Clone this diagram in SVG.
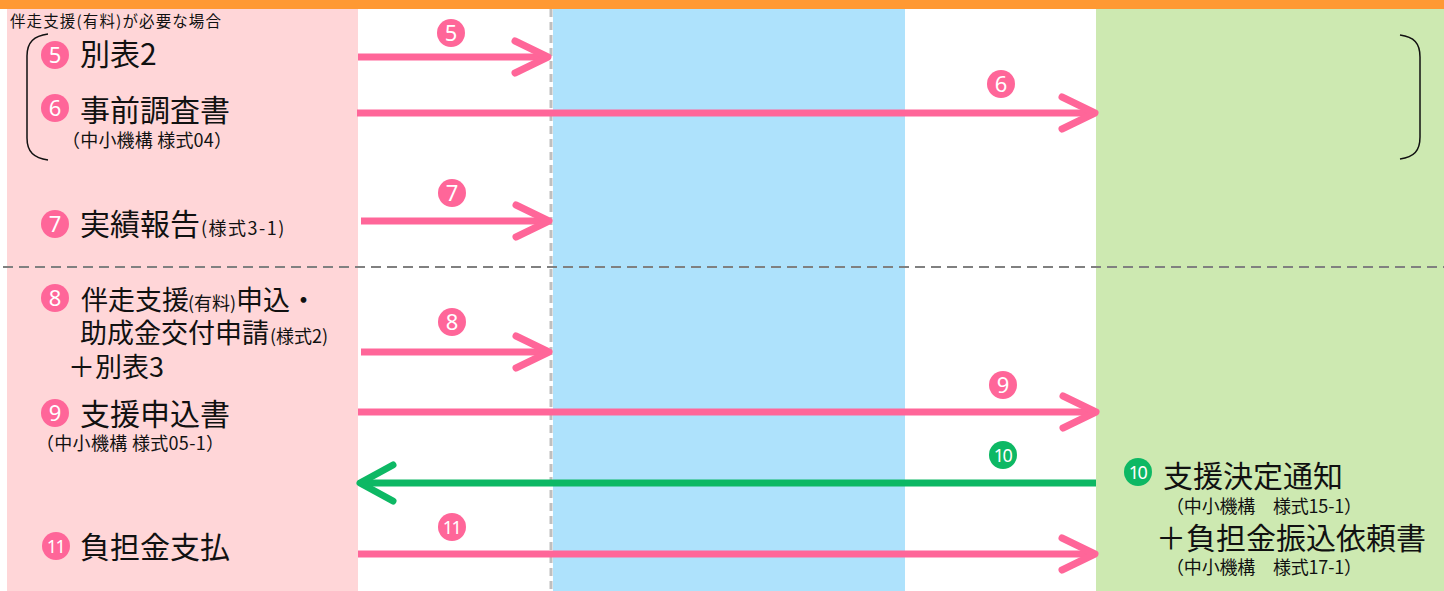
<svg xmlns="http://www.w3.org/2000/svg" width="1444" height="591" viewBox="0 0 1444 591">
<style>
  text { font-family: "Noto Sans CJK JP", "Noto Sans", sans-serif; fill: #111; }
  .big { font-size: 30px; }
  .mid { font-size: 27px; }
  .sm { font-size: 18px; }
  .xs { font-size: 18px; }
  .num { font-family: "Noto Sans", "DejaVu Sans", sans-serif; font-size: 22px; fill: #fff; text-anchor: middle; }
  .num2 { font-family: "Noto Sans", "DejaVu Sans", sans-serif; font-size: 18px; fill: #fff; text-anchor: middle; letter-spacing: -1.5px; }
  .pk { fill: #FF6699; }
  .gr { fill: #0DB864; }
  .ap { stroke: #FF6699; stroke-width: 7; fill: none; }
  .ag { stroke: #0DB864; stroke-width: 7; fill: none; }
  .br { stroke: #111; stroke-width: 1.5; fill: none; }
</style>
<defs>
  <marker id="hp" markerUnits="userSpaceOnUse" viewBox="-42 -24 50 48" refX="0" refY="0" markerWidth="50" markerHeight="48" orient="auto" overflow="visible">
    <path d="M-33,-16 L0,0 L-33,16" fill="none" stroke="#FF6699" stroke-width="7" stroke-linecap="round" stroke-linejoin="round"/>
  </marker>
  <marker id="hg" markerUnits="userSpaceOnUse" viewBox="-42 -24 50 48" refX="0" refY="0" markerWidth="50" markerHeight="48" orient="auto" overflow="visible">
    <path d="M-33,-18 L0,0 L-33,18" fill="none" stroke="#0DB864" stroke-width="7" stroke-linecap="round" stroke-linejoin="round"/>
  </marker>
</defs>

<g id="background">
  <rect x="0" y="0" width="1444" height="591" fill="#ffffff"/>
  <rect x="7" y="9" width="351" height="582" fill="#FFD6D8"/>
  <rect x="553" y="9" width="352" height="582" fill="#AEE2FC"/>
  <rect x="1096" y="9" width="348" height="582" fill="#CDE9B1"/>
  <rect x="0" y="0" width="1444" height="9" fill="#FF9933"/>
  <line x1="551" y1="9" x2="551" y2="591" stroke="#BFBFBF" stroke-width="3" stroke-dasharray="8 5"/>
  <line x1="3" y1="267" x2="1444" y2="267" stroke="#808080" stroke-width="2" stroke-dasharray="10 6"/>
</g>

<g id="header">
  <text x="10" y="27" style="font-size:15.5px" textLength="211" lengthAdjust="spacing">伴走支援(有料)が必要な場合</text>
  <path class="br" d="M48,34 C34,36 27,42 27,56 L27,138 C27,152 34,158 48,160"/>
  <path class="br" d="M1400,35 C1414,37 1420,43 1420,57 L1420,137 C1420,151 1414,157 1400,159"/>
</g>

<g id="node5">
  <circle class="pk" cx="55" cy="55" r="14"/><text class="num" x="55" y="63">5</text>
  <text class="big" x="80" y="65">別表2</text>
</g>
<g id="node6">
  <circle class="pk" cx="55" cy="108" r="14"/><text class="num" x="55" y="116">6</text>
  <text class="big" x="80" y="121">事前調査書</text>
  <text class="sm" x="62" y="147" textLength="170" lengthAdjust="spacing">（中小機構 様式04）</text>
</g>
<g id="node7">
  <circle class="pk" cx="55" cy="224" r="14"/><text class="num" x="55" y="232">7</text>
  <text class="big" x="80" y="235">実績報告</text>
  <text class="xs" x="201" y="235" style="letter-spacing:1.5px">(様式3-1)</text>
</g>
<g id="node8">
  <circle class="pk" cx="55" cy="298" r="14"/><text class="num" x="55" y="306">8</text>
  <text class="mid" x="81" y="310">伴走支援</text>
  <text class="xs" x="188" y="310">(有料)</text>
  <text class="mid" x="236" y="310">申込・</text>
  <text class="mid" x="80" y="343">助成金交付申請</text>
  <text class="xs" x="270" y="343">(様式2)</text>
  <text class="mid" x="68" y="377">＋別表3</text>
</g>
<g id="node9">
  <circle class="pk" cx="55" cy="413" r="14"/><text class="num" x="55" y="421">9</text>
  <text class="big" x="80" y="425">支援申込書</text>
  <text class="sm" x="36" y="450" textLength="188" lengthAdjust="spacing">（中小機構 様式05-1）</text>
</g>
<g id="node11">
  <circle class="pk" cx="56" cy="546" r="14"/><text class="num2" x="55.5" y="552.5">11</text>
  <text class="big" x="80" y="558">負担金支払</text>
</g>
<g id="node10">
  <circle class="gr" cx="1138" cy="472" r="14"/><text class="num2" x="1137.5" y="478.5">10</text>
  <text class="big" x="1163" y="487">支援決定通知</text>
  <text class="sm" x="1166" y="513" textLength="196" lengthAdjust="spacing">（中小機構　様式15-1）</text>
  <text class="big" x="1156" y="549">＋負担金振込依頼書</text>
  <text class="sm" x="1166" y="574" textLength="196" lengthAdjust="spacing">（中小機構　様式17-1）</text>
</g>

<g id="connectors">
  <line class="ap" x1="358" y1="57" x2="548" y2="57" marker-end="url(#hp)"/>
  <line class="ap" x1="357" y1="113" x2="1095" y2="113" marker-end="url(#hp)"/>
  <line class="ap" x1="361" y1="221" x2="549" y2="221" marker-end="url(#hp)"/>
  <line class="ap" x1="361" y1="352" x2="549" y2="352" marker-end="url(#hp)"/>
  <line class="ap" x1="358" y1="412" x2="1096" y2="412" marker-end="url(#hp)"/>
  <line class="ag" x1="1096" y1="483" x2="360" y2="483" marker-end="url(#hg)"/>
  <line class="ap" x1="358" y1="554" x2="1095" y2="554" marker-end="url(#hp)"/>
</g>

<g id="connector-labels">
  <circle class="pk" cx="451" cy="33" r="14"/><text class="num" x="451" y="41">5</text>
  <circle class="pk" cx="1001" cy="84" r="14"/><text class="num" x="1001" y="92">6</text>
  <circle class="pk" cx="452" cy="193" r="14"/><text class="num" x="452" y="201">7</text>
  <circle class="pk" cx="452" cy="322" r="14"/><text class="num" x="452" y="330">8</text>
  <circle class="pk" cx="1003" cy="385" r="14"/><text class="num" x="1003" y="393">9</text>
  <circle class="gr" cx="1003" cy="455" r="14"/><text class="num2" x="1002.5" y="461.5">10</text>
  <circle class="pk" cx="452" cy="527" r="14"/><text class="num2" x="451.5" y="533.5">11</text>
</g>
</svg>
